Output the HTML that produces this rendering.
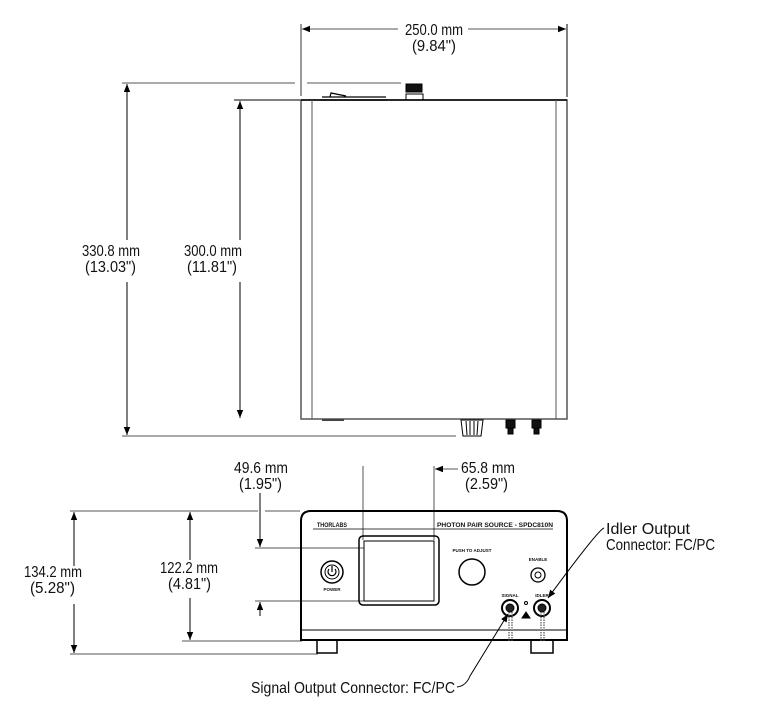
<!DOCTYPE html>
<html><head><meta charset="utf-8"><style>
html,body{margin:0;padding:0;background:#fff;}
svg{display:block;}
text{font-family:"Liberation Sans Narrow","Liberation Sans",sans-serif;font-size:16px;fill:#111;}
.s{font-size:4.5px;font-weight:bold;}
</style></head><body>
<svg width="780" height="707" viewBox="0 0 780 707" xmlns="http://www.w3.org/2000/svg">
<defs>
<marker id="a" viewBox="0 0 10 10" refX="10" refY="5" markerWidth="8" markerHeight="8" orient="auto-start-reverse" markerUnits="userSpaceOnUse"><path d="M0,1 L10,5 L0,9z" fill="#000"/></marker>
</defs>
<g stroke="#000" fill="none" stroke-width="1">
<line x1="301" y1="24" x2="301" y2="96" stroke="#777" stroke-width="1.5"/>
<line x1="567" y1="24" x2="567" y2="97"/>
<line x1="302" y1="29" x2="398" y2="29" marker-start="url(#a)" stroke="#555"/>
<line x1="468" y1="29" x2="566" y2="29" marker-end="url(#a)" stroke="#555"/>
<line x1="122" y1="83" x2="295" y2="83" stroke="#555"/>
<line x1="307" y1="83" x2="401" y2="83" stroke="#555"/>
<line x1="127" y1="84" x2="127" y2="240" marker-start="url(#a)"/>
<line x1="127" y1="282" x2="127" y2="435" marker-end="url(#a)"/>
<line x1="234" y1="100" x2="301" y2="100"/>
<line x1="240" y1="101" x2="240" y2="240" marker-start="url(#a)"/>
<line x1="240" y1="282" x2="240" y2="418" marker-end="url(#a)"/>
<line x1="122" y1="436" x2="456" y2="436" stroke="#555"/>
<rect x="301" y="100" width="266" height="319" stroke="#555" stroke-width="1.5"/>
<line x1="301" y1="100" x2="567" y2="100" stroke-width="1.5"/>
<line x1="312" y1="100" x2="312" y2="419" stroke="#555"/>
<line x1="556" y1="100" x2="556" y2="419" stroke="#555"/>
<path d="M320,100 L388,100 M322,97 L386,97 M330,97 L331,93 L346,96" stroke-width="1.2"/>
<rect x="406" y="84" width="16" height="8" fill="#111"/>
<rect x="406" y="94" width="17" height="6"/>
<line x1="322" y1="420" x2="344" y2="420" stroke="#444" stroke-width="2"/>
<path d="M461,420 L483,420 L481,436 L463,436z M466,421 L467,435 M470,421 L470,435 M474,421 L474,435 M478,421 L477,435" stroke-width="1"/>
<rect x="506" y="420" width="9" height="8" fill="#111"/>
<rect x="508" y="428" width="5" height="6" fill="#111"/>
<rect x="532" y="420" width="9" height="8" fill="#111"/>
<rect x="534" y="428" width="5" height="6" fill="#111"/>
<line x1="70" y1="511" x2="258" y2="511" stroke="#555"/>
<line x1="265" y1="511" x2="300" y2="511" stroke="#555"/>
<line x1="74" y1="512" x2="74" y2="566" marker-start="url(#a)"/>
<line x1="74" y1="604" x2="74" y2="653" marker-end="url(#a)"/>
<line x1="70" y1="654" x2="318" y2="654" stroke="#555"/>
<line x1="190" y1="512" x2="190" y2="560" marker-start="url(#a)"/>
<line x1="190" y1="598" x2="190" y2="640" marker-end="url(#a)"/>
<line x1="182" y1="641" x2="302" y2="641" stroke="#555"/>
<line x1="255" y1="548" x2="364" y2="548" stroke="#555"/>
<line x1="255" y1="601" x2="364" y2="601" stroke="#555"/>
<line x1="260" y1="493" x2="260" y2="547" marker-end="url(#a)"/>
<line x1="260" y1="616" x2="260" y2="602" marker-end="url(#a)"/>
<line x1="363" y1="466" x2="363" y2="540" stroke="#555"/>
<line x1="434" y1="466" x2="434" y2="540" stroke="#555"/>
<line x1="435" y1="469" x2="458" y2="469" marker-start="url(#a)" stroke="#555"/>
<path d="M301,640 L301,521 Q301,511 311,511 L557,511 Q567,511 567,521 L567,640 Z" stroke-width="2"/>
<line x1="301" y1="630" x2="567" y2="630"/>
<line x1="313" y1="529" x2="553" y2="529" stroke-width="0.8"/>
<path d="M317,640 L317,653 L337,653 L337,640" stroke-width="1.5"/>
<path d="M531,640 L531,653 L553,653 L553,640" stroke-width="1.5"/>
<rect x="359" y="536" width="80" height="69" rx="4" stroke-width="1.5"/>
<rect x="364" y="541" width="70" height="60" stroke-width="1"/>
<circle cx="332" cy="572" r="11" stroke-width="1.5"/>
<circle cx="332" cy="572" r="7"/>
<path d="M329,569 A4,4 0 1 0 335,569 M332,566 L332,572" stroke-width="1.2"/>
<circle cx="472" cy="572" r="13" stroke-width="1.5"/>
<circle cx="538" cy="575" r="7" stroke-width="1.3"/>
<circle cx="538" cy="575" r="3"/>
<circle cx="510" cy="608" r="8" stroke-width="2"/>
<circle cx="510" cy="608" r="4" fill="#222"/>
<circle cx="542" cy="608" r="8" stroke-width="2"/>
<circle cx="542" cy="608" r="4" fill="#222"/>
<path d="M509,612 L509,642 M512,612 L512,642 M541,612 L541,642 M544,612 L544,642" stroke="#555" stroke-dasharray="1.5,1" stroke-width="1.2"/>
<path d="M522,618 L526,612 L530,618z" fill="#000"/>
<circle cx="526" cy="603" r="1.5"/>
<path d="M604,528 Q598,530 548,598" marker-end="url(#a)"/>
<path d="M457,687 Q466,686 470,676 L508,614" marker-end="url(#a)"/>
</g>
<g lengthAdjust="spacingAndGlyphs">
<text x="405" y="35" textLength="58" lengthAdjust="spacingAndGlyphs">250.0 mm</text>
<text x="412" y="51" textLength="44" lengthAdjust="spacingAndGlyphs">(9.84")</text>
<text x="82" y="256" textLength="58" lengthAdjust="spacingAndGlyphs">330.8 mm</text>
<text x="85" y="272" textLength="51" lengthAdjust="spacingAndGlyphs">(13.03")</text>
<text x="184" y="256" textLength="58" lengthAdjust="spacingAndGlyphs">300.0 mm</text>
<text x="187" y="272" textLength="50" lengthAdjust="spacingAndGlyphs">(11.81")</text>
<text x="234" y="473" textLength="54" lengthAdjust="spacingAndGlyphs">49.6 mm</text>
<text x="239" y="489" textLength="43" lengthAdjust="spacingAndGlyphs">(1.95")</text>
<text x="461" y="473" textLength="54" lengthAdjust="spacingAndGlyphs">65.8 mm</text>
<text x="465" y="489" textLength="43" lengthAdjust="spacingAndGlyphs">(2.59")</text>
<text x="24" y="577" textLength="58" lengthAdjust="spacingAndGlyphs">134.2 mm</text>
<text x="30" y="593" textLength="45" lengthAdjust="spacingAndGlyphs">(5.28")</text>
<text x="160" y="573" textLength="58" lengthAdjust="spacingAndGlyphs">122.2 mm</text>
<text x="168" y="589" textLength="43" lengthAdjust="spacingAndGlyphs">(4.81")</text>
<text x="606" y="534" textLength="84" lengthAdjust="spacingAndGlyphs">Idler Output</text>
<text x="606" y="550" textLength="109" lengthAdjust="spacingAndGlyphs">Connector: FC/PC</text>
<text x="251" y="693" textLength="204" lengthAdjust="spacingAndGlyphs">Signal Output Connector: FC/PC</text>
<text x="317" y="527" style="font-size:6px;font-weight:bold" textLength="30" lengthAdjust="spacingAndGlyphs">THORLABS</text>
<text x="437" y="527" style="font-size:6px;font-weight:bold" textLength="116" lengthAdjust="spacingAndGlyphs">PHOTON PAIR SOURCE - SPDC810N</text>
<text class="s" x="472" y="552" text-anchor="middle">PUSH TO ADJUST</text>
<text class="s" x="538" y="561" text-anchor="middle">ENABLE</text>
<text class="s" x="332" y="591" text-anchor="middle">POWER</text>
<text class="s" x="510" y="597" text-anchor="middle">SIGNAL</text>
<text class="s" x="542" y="597" text-anchor="middle">IDLER</text>
</g>
</svg>
</body></html>
